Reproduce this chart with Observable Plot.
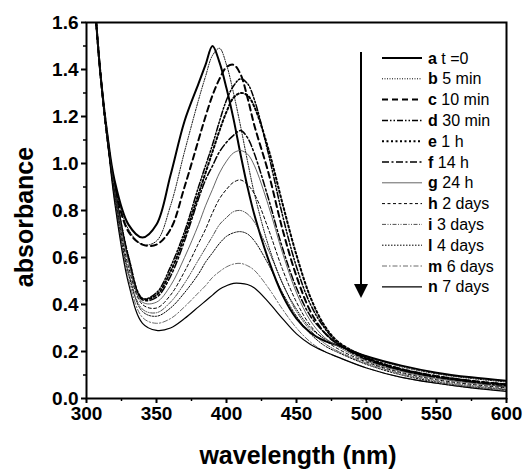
<!DOCTYPE html>
<html>
<head>
<meta charset="utf-8">
<script src="https://cdn.jsdelivr.net/npm/d3@7"></script>
<script src="https://cdn.jsdelivr.net/npm/@observablehq/plot@0.6"></script>
<style>
  html, body { margin: 0; padding: 0; background: #fff; }
  #chart { width: 523px; height: 470px; }
</style>
</head>
<body>
<div id="chart"></div>
<script>
// wavelengths (nm)
const wavelengths = [300,305,310,315,320,330,340,350,360,370,380,385,390,395,400,405,410,415,420,430,440,450,460,470,480,500,525,550,575,600];

// absorbance series
const a_t0   = [2.15,1.75,1.38,1.12,0.93,0.74,0.685,0.74,0.95,1.18,1.34,1.42,1.50,1.43,1.32,1.19,1.04,0.90,0.78,0.59,0.44,0.34,0.28,0.245,0.225,0.18,0.14,0.11,0.09,0.075];
const b_5min = [2.15,1.75,1.38,1.11,0.92,0.72,0.655,0.67,0.82,1.05,1.27,1.37,1.46,1.49,1.42,1.30,1.16,1.01,0.87,0.65,0.49,0.38,0.30,0.255,0.225,0.18,0.135,0.105,0.085,0.07];
const c_10min= [2.15,1.75,1.38,1.11,0.91,0.71,0.655,0.655,0.72,0.90,1.10,1.20,1.29,1.36,1.41,1.42,1.38,1.28,1.16,0.96,0.72,0.52,0.37,0.28,0.23,0.17,0.125,0.095,0.075,0.06];
const d_30min= [2.15,1.75,1.38,1.10,0.90,0.60,0.425,0.45,0.56,0.71,0.90,0.99,1.08,1.18,1.27,1.33,1.36,1.34,1.27,1.04,0.78,0.56,0.40,0.30,0.235,0.17,0.12,0.09,0.07,0.055];
const e_1h   = [2.15,1.75,1.38,1.10,0.90,0.60,0.425,0.44,0.54,0.69,0.87,0.96,1.05,1.14,1.22,1.28,1.30,1.29,1.24,1.06,0.83,0.61,0.43,0.31,0.24,0.175,0.125,0.095,0.075,0.06];
const f_14h  = [2.15,1.75,1.38,1.10,0.90,0.60,0.42,0.43,0.52,0.67,0.85,0.93,0.99,1.05,1.09,1.12,1.14,1.11,1.04,0.85,0.64,0.47,0.35,0.28,0.23,0.165,0.12,0.09,0.07,0.05];
const g_24h  = [2.15,1.75,1.38,1.10,0.89,0.58,0.41,0.41,0.48,0.60,0.74,0.82,0.89,0.96,1.01,1.045,1.055,1.04,0.99,0.82,0.62,0.45,0.33,0.26,0.22,0.16,0.115,0.085,0.065,0.05];
const h_2d   = [2.15,1.75,1.38,1.10,0.88,0.56,0.40,0.385,0.44,0.54,0.66,0.72,0.79,0.85,0.89,0.92,0.93,0.91,0.87,0.72,0.55,0.41,0.31,0.25,0.21,0.155,0.11,0.08,0.06,0.045];
const i_3d   = [2.15,1.75,1.38,1.10,0.87,0.54,0.38,0.365,0.41,0.49,0.59,0.64,0.69,0.74,0.77,0.795,0.80,0.785,0.75,0.63,0.49,0.37,0.29,0.235,0.20,0.15,0.105,0.075,0.055,0.04];
const l_4d   = [2.15,1.75,1.38,1.10,0.86,0.53,0.37,0.35,0.385,0.45,0.53,0.58,0.62,0.66,0.69,0.705,0.71,0.70,0.67,0.57,0.45,0.35,0.275,0.225,0.195,0.145,0.10,0.07,0.05,0.037];
const m_6d   = [2.15,1.75,1.38,1.10,0.85,0.51,0.345,0.32,0.34,0.39,0.45,0.48,0.515,0.54,0.56,0.572,0.575,0.565,0.545,0.47,0.38,0.30,0.24,0.20,0.175,0.13,0.09,0.065,0.045,0.033];
const n_7d   = [2.15,1.75,1.38,1.10,0.84,0.49,0.32,0.29,0.30,0.34,0.39,0.415,0.44,0.465,0.48,0.49,0.49,0.485,0.47,0.41,0.34,0.275,0.23,0.20,0.175,0.13,0.09,0.065,0.045,0.03];

// legend labels
const letters = ["a","b","c","d","e","f","g","h","i","l","m","n"];
const labels  = [" t =0"," 5 min"," 10 min"," 30 min"," 1 h"," 14 h"," 24 h"," 2 days"," 3 days"," 4 days"," 6 days"," 7 days"];

// tick labels
const xTicks = [300,350,400,450,500,550,600];
const xMinor = [325,375,425,475,525,575];
const yTicks = [0,0.2,0.4,0.6,0.8,1.0,1.2,1.4,1.6];
const yMinor = [0.1,0.3,0.5,0.7,0.9,1.1,1.3,1.5];
const xTitle = "wavelength (nm)";
const yTitle = "absorbance";

const seriesValues = [a_t0,b_5min,c_10min,d_30min,e_1h,f_14h,g_24h,h_2d,i_3d,l_4d,m_6d,n_7d];

// line styles
const styles = [
  {stroke:"#000", strokeWidth:2,   dash:null},
  {stroke:"#000", strokeWidth:1,   dash:"1,1.5"},
  {stroke:"#000", strokeWidth:2,   dash:"6,4"},
  {stroke:"#000", strokeWidth:1.5, dash:"6,2,1.5,2,1.5,2"},
  {stroke:"#000", strokeWidth:2,   dash:"2,2.5"},
  {stroke:"#000", strokeWidth:1.5, dash:"7,2.5,2,2.5"},
  {stroke:"#555", strokeWidth:0.9, dash:null},
  {stroke:"#000", strokeWidth:1,   dash:"3,2.5"},
  {stroke:"#222", strokeWidth:0.8, dash:"4,1.5,1,1.5,1,1.5"},
  {stroke:"#000", strokeWidth:1,   dash:"1.5,1.5"},
  {stroke:"#444", strokeWidth:0.8, dash:"5,2,1.5,2"},
  {stroke:"#000", strokeWidth:1.2, dash:null}
];

const rows = [];
seriesValues.forEach((vals, s) => {
  vals.forEach((v, k) => rows.push({series: s, wl: wavelengths[k], abs: v}));
});

const font = "'Liberation Sans', Arial, Helvetica, sans-serif";

const lineMarks = seriesValues.map((_, s) =>
  Plot.line(rows.filter(r => r.series === s), {
    x: "wl", y: "abs",
    stroke: styles[s].stroke,
    strokeWidth: styles[s].strokeWidth,
    strokeDasharray: styles[s].dash,
    curve: "catmull-rom",
    clip: true
  })
);

const chart = Plot.plot({
  width: 523,
  height: 470,
  marginLeft: 86,
  marginRight: 17,
  marginTop: 22,
  marginBottom: 72,
  style: {fontFamily: font, color: "#000", background: "#fff", overflow: "visible"},
  x: {domain: [300, 600]},
  y: {domain: [0, 1.6]},
  marks: [
    ...lineMarks,
    Plot.axisX({ticks: xTicks, tickSize: 5, tickPadding: 3, tickFormat: d => String(d), label: null,
                fontSize: 19, fontWeight: "bold", strokeWidth: 2}),
    Plot.axisX({ticks: xMinor, tickSize: 3, text: null, label: null, strokeWidth: 1.5}),
    Plot.axisY({ticks: yTicks, tickSize: 5, tickPadding: 3, tickFormat: d => d.toFixed(1), label: null,
                fontSize: 19, fontWeight: "bold", strokeWidth: 2}),
    Plot.axisY({ticks: yMinor, tickSize: 3, text: null, label: null, strokeWidth: 1.5}),
    Plot.frame({stroke: "#000", strokeWidth: 2})
  ]
});

document.getElementById("chart").appendChild(chart);

const svg = d3.select(chart);

// axis titles
svg.append("text").attr("x", 298).attr("y", 455).attr("dy", "0.35em")
  .attr("text-anchor", "middle").attr("font-family", font).attr("font-size", 25)
  .attr("font-weight", "bold").attr("fill", "#000").text(xTitle);
svg.append("text").attr("transform", "translate(24,217) rotate(-90)").attr("dy", "0.35em")
  .attr("text-anchor", "middle").attr("font-family", font).attr("font-size", 25)
  .attr("font-weight", "bold").attr("fill", "#000").text(yTitle);

// legend and arrow overlay
const lg = svg.append("g").attr("font-family", font).attr("font-size", 16).attr("text-anchor", "start");
const x0 = 382, x1 = 422, xt = 428, yTop = 58, step = 20.8;
letters.forEach((L, s) => {
  const y = yTop + s * step;
  lg.append("line")
    .attr("x1", x0).attr("x2", x1).attr("y1", y).attr("y2", y)
    .attr("stroke", styles[s].stroke)
    .attr("stroke-width", styles[s].strokeWidth)
    .attr("stroke-dasharray", styles[s].dash);
  const t = lg.append("text").attr("x", xt).attr("y", y).attr("dy", "0.35em")
    .attr("text-anchor", "start").attr("fill", "#000");
  t.append("tspan").attr("font-weight", "bold").text(L);
  t.append("tspan").text(labels[s]);
});
lg.append("line").attr("x1", 361).attr("x2", 361).attr("y1", 52).attr("y2", 286)
  .attr("stroke", "#000").attr("stroke-width", 2);
lg.append("path").attr("d", "M354,284 L368,284 L361,298 Z").attr("fill", "#000");
</script>
</body>
</html>
